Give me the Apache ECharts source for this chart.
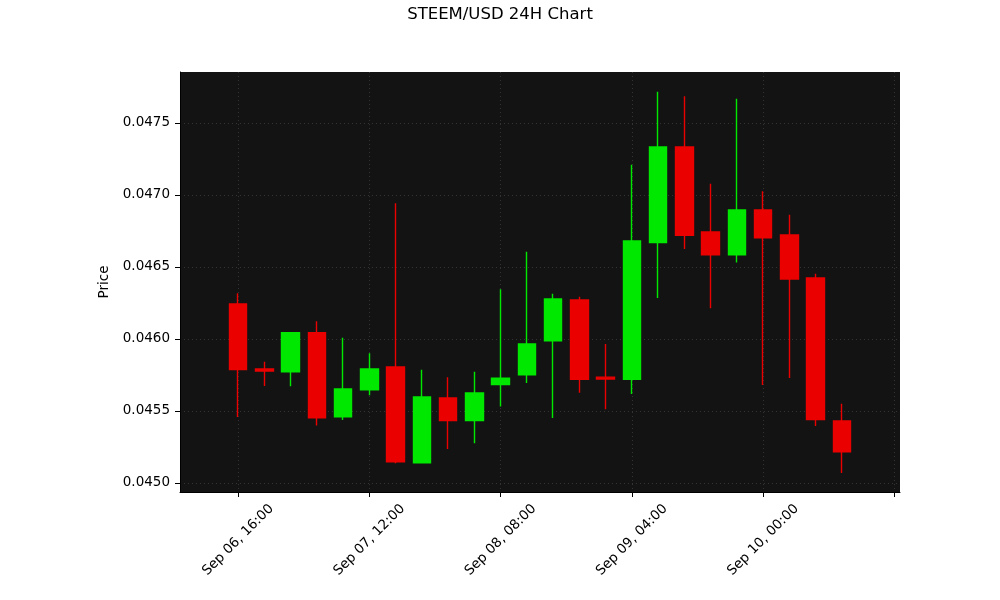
<!DOCTYPE html>
<html>
<head>
<meta charset="utf-8">
<script src="https://cdn.jsdelivr.net/npm/echarts@6/dist/echarts.min.js"></script>
<style>
  html, body { margin: 0; padding: 0; background: #fff; }
  #main { width: 1000px; height: 600px; }
</style>
</head>
<body>
<div id="main"></div>
<script>
// candle times (4h bars)
var times = [
    '2023-09-06T16:00', '2023-09-06T20:00', '2023-09-07T00:00', '2023-09-07T04:00',
    '2023-09-07T08:00', '2023-09-07T12:00', '2023-09-07T16:00', '2023-09-07T20:00',
    '2023-09-08T00:00', '2023-09-08T04:00', '2023-09-08T08:00', '2023-09-08T12:00',
    '2023-09-08T16:00', '2023-09-08T20:00', '2023-09-09T00:00', '2023-09-09T04:00',
    '2023-09-09T08:00', '2023-09-09T12:00', '2023-09-09T16:00', '2023-09-09T20:00',
    '2023-09-10T00:00', '2023-09-10T04:00', '2023-09-10T08:00', '2023-09-10T12:00'
];
var opens = [
    0.046243, 0.045792, 0.045773, 0.046044, 0.045460, 0.045648, 0.045806, 0.045141,
    0.045590, 0.045433, 0.045683, 0.045752, 0.045988, 0.046271, 0.045735, 0.045720,
    0.046669, 0.047333, 0.046743, 0.046585, 0.046896, 0.046722, 0.046424, 0.045431
];
var closes = [
    0.045787, 0.045778, 0.046044, 0.045453, 0.045653, 0.045792, 0.045148, 0.045597,
    0.045433, 0.045625, 0.045727, 0.045965, 0.046278, 0.045720, 0.045722, 0.046681,
    0.047333, 0.046720, 0.046585, 0.046896, 0.046703, 0.046417, 0.045440, 0.045217
];
var lows = [
    0.045458, 0.045674, 0.045672, 0.045400, 0.045438, 0.045609, 0.045137, 0.045141,
    0.045236, 0.045276, 0.045532, 0.045694, 0.045451, 0.045627, 0.045512, 0.045618,
    0.046285, 0.046625, 0.046213, 0.046532, 0.045681, 0.045729, 0.045396, 0.045069
];
var highs = [
    0.046317, 0.045842, 0.046047, 0.046123, 0.046009, 0.045901, 0.046942, 0.045787,
    0.045734, 0.045773, 0.046345, 0.046606, 0.046315, 0.046294, 0.045965, 0.047210,
    0.047717, 0.047685, 0.047078, 0.047669, 0.047026, 0.046863, 0.046453, 0.045551
];
var yTicks = [0.0450, 0.0455, 0.0460, 0.0465, 0.0470, 0.0475];
var xTickTimes = ['2023-09-06T16:00', '2023-09-07T12:00', '2023-09-08T08:00',
                  '2023-09-09T04:00', '2023-09-10T00:00', '2023-09-10T20:00'];
var xLabelTimes = ['2023-09-06T16:00', '2023-09-07T12:00', '2023-09-08T08:00',
                   '2023-09-09T04:00', '2023-09-10T00:00'];

var HOUR = 3600 * 1000;
var MONTHS = ['Jan','Feb','Mar','Apr','May','Jun','Jul','Aug','Sep','Oct','Nov','Dec'];
function ts(s) { return new Date(s + ':00Z').getTime(); }
function pad(n) { return (n < 10 ? '0' : '') + n; }
function fmtTime(v) {
    var d = new Date(v);
    return MONTHS[d.getUTCMonth()] + ' ' + pad(d.getUTCDate()) + ', ' +
        pad(d.getUTCHours()) + ':' + pad(d.getUTCMinutes());
}

var candles = times.map(function (t, i) {
    return [ts(t), opens[i], closes[i], lows[i], highs[i]];
});

var UP = '#00e800', DOWN = '#eb0000';
var FONT = 'DejaVu Sans';
var GRID_LINE = { show: true, lineStyle: { color: '#333333', type: [1, 3], width: 1 } };

var chart = echarts.init(document.getElementById('main'));
var option = {
    animation: false,
    backgroundColor: '#ffffff',
    title: {
        text: 'STEEM/USD 24H Chart',
        left: 'center',
        top: 1,
        textStyle: { fontFamily: FONT, fontSize: 16.5, fontWeight: 'normal', color: '#000' }
    },
    grid: {
        left: 180, right: 100, top: 72, bottom: 108,
        show: true, backgroundColor: '#131313', borderWidth: 0
    },
    xAxis: {
        type: 'value',
        min: ts(times[0]) - 8.855 * HOUR,
        max: ts(times[times.length - 1]) + 8.855 * HOUR,
        axisLine: { show: true, onZero: false, lineStyle: { color: '#000' } },
        axisTick: {
            show: true, length: 5, lineStyle: { color: '#000' },
            customValues: xTickTimes.map(ts)
        },
        axisLabel: {
            customValues: xLabelTimes.map(ts),
            formatter: fmtTime,
            rotate: 45,
            align: 'center',
            verticalAlign: 'middle',
            margin: 48,
            fontFamily: FONT, fontSize: 13.5, color: '#000'
        },
        splitLine: GRID_LINE
    },
    yAxis: {
        type: 'value',
        name: 'Price',
        nameLocation: 'middle',
        nameGap: 63,
        nameTextStyle: { fontFamily: FONT, fontSize: 13.5, color: '#000' },
        min: 0.0449375,
        max: 0.047854,
        axisLine: { show: true, lineStyle: { color: '#000' } },
        axisTick: {
            show: true, length: 5, lineStyle: { color: '#000' },
            customValues: yTicks
        },
        axisLabel: {
            customValues: yTicks,
            formatter: function (v) { return v.toFixed(4); },
            margin: 10,
            fontFamily: FONT, fontSize: 13.5, color: '#000'
        },
        splitLine: GRID_LINE
    },
    series: [{
        type: 'candlestick',
        data: candles,
        encode: { x: 0, y: [1, 2, 3, 4] },
        barWidth: 18,
        itemStyle: {
            color: UP, color0: DOWN,
            borderColor: UP, borderColor0: DOWN,
            borderWidth: 1.4
        }
    }]
};
chart.setOption(option);
</script>
</body>
</html>
